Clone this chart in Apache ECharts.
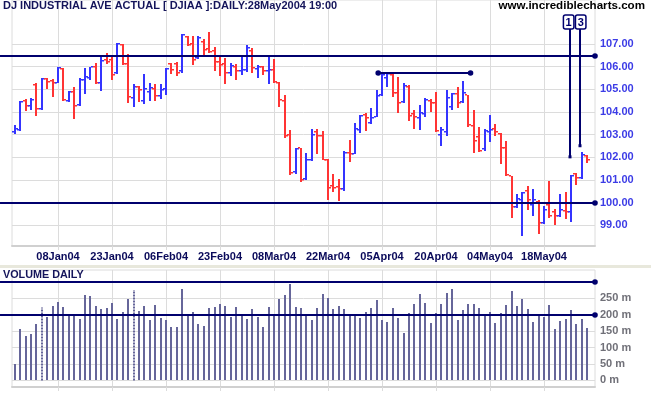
<!DOCTYPE html>
<html><head><meta charset="utf-8">
<script src="https://cdn.jsdelivr.net/npm/echarts@6/dist/echarts.min.js"></script>
<style>html,body{margin:0;padding:0;background:#fff}#c{width:651px;height:395px}</style>
</head><body><div id="c"></div>
<script>
// ---------- data ----------
const dates = ['26Dec03','29Dec03','30Dec03','31Dec03',
 '02Jan04','05Jan04','06Jan04','07Jan04','08Jan04','09Jan04','12Jan04','13Jan04','14Jan04','15Jan04','16Jan04','20Jan04','21Jan04','22Jan04','23Jan04','26Jan04','27Jan04','28Jan04','29Jan04','30Jan04',
 '02Feb04','03Feb04','04Feb04','05Feb04','06Feb04','09Feb04','10Feb04','11Feb04','12Feb04','13Feb04','17Feb04','18Feb04','19Feb04','20Feb04','23Feb04','24Feb04','25Feb04','26Feb04','27Feb04',
 '01Mar04','02Mar04','03Mar04','04Mar04','05Mar04','08Mar04','09Mar04','10Mar04','11Mar04','12Mar04','15Mar04','16Mar04','17Mar04','18Mar04','19Mar04','22Mar04','23Mar04','24Mar04','25Mar04','26Mar04','29Mar04','30Mar04','31Mar04',
 '01Apr04','02Apr04','05Apr04','06Apr04','07Apr04','08Apr04','12Apr04','13Apr04','14Apr04','15Apr04','16Apr04','19Apr04','20Apr04','21Apr04','22Apr04','23Apr04','26Apr04','27Apr04','28Apr04','29Apr04','30Apr04',
 '03May04','04May04','05May04','06May04','07May04','10May04','11May04','12May04','13May04','14May04','17May04','18May04','19May04','20May04','21May04','24May04','25May04','26May04','27May04','28May04'];

const open = [103.10,103.20,104.50,104.25,105.20,104.12,105.45,105.35,105.30,105.90,104.50,104.90,104.30,105.40,105.50,106.00,105.30,106.30,106.30,105.70,
 106.95,106.10,104.60,105.10,104.50,104.90,105.00,104.70,105.00,106.10,106.10,105.80,107.30,107.00,106.40,107.10,106.80,106.70,106.20,106.10,
 105.70,106.00,105.80,105.85,106.70,105.90,106.00,105.80,105.85,105.30,104.50,103.00,101.35,102.40,101.05,101.90,103.10,102.95,101.90,100.75,
 100.70,100.60,102.20,102.15,103.20,103.85,103.50,103.80,104.75,105.50,105.65,104.85,104.45,105.10,103.90,103.75,103.90,104.50,104.40,103.00,
 103.10,104.20,104.80,104.45,104.75,103.40,102.90,102.35,103.10,103.25,103.05,102.40,101.17,99.80,100.10,100.50,99.90,100.05,99.10,99.90,
 99.60,99.40,99.65,99.60,101.25,101.10,102.05];
const high = [103.42,104.49,104.57,104.60,105.29,105.48,105.48,105.45,105.97,105.93,104.92,105.09,105.48,105.95,106.00,106.17,106.44,106.62,106.50,107.03,
 107.00,106.56,105.23,105.14,105.67,105.29,105.23,105.23,105.93,106.17,106.22,107.44,107.35,107.35,107.35,107.21,107.53,106.88,106.44,106.37,
 106.15,106.12,106.51,106.96,106.81,106.07,106.03,106.51,106.32,105.31,104.75,103.20,102.43,102.43,102.17,103.24,103.27,103.17,101.92,101.28,
 101.06,102.27,102.76,103.50,103.86,103.96,104.16,104.97,105.67,105.70,105.70,105.55,105.26,105.19,104.11,104.30,104.60,104.56,104.89,103.35,
 104.97,104.85,105.11,105.36,104.76,104.08,103.35,103.27,103.86,103.46,103.08,102.71,101.18,100.37,100.47,100.72,100.62,100.14,99.84,100.94,
 99.74,100.37,100.47,101.21,101.31,102.24,102.12];
const low = [103.05,103.18,104.04,104.08,103.82,104.08,105.00,104.67,105.26,104.49,104.45,103.69,104.26,104.78,105.41,105.22,104.94,106.10,105.40,105.67,
 106.07,104.41,104.20,104.45,104.35,104.49,104.49,104.56,104.75,105.67,105.59,105.73,106.91,106.07,106.32,106.47,106.62,105.82,105.60,105.23,
 105.60,105.41,105.63,105.78,105.70,105.51,105.63,105.23,105.26,104.23,102.86,101.24,101.28,100.91,101.02,101.83,102.14,101.87,100.10,100.47,
 100.07,100.50,101.80,102.14,103.08,103.17,103.46,103.76,104.70,105.09,104.67,103.96,104.41,103.60,103.24,103.20,103.79,104.01,103.12,102.49,
 102.93,104.08,104.18,104.41,103.35,102.20,102.24,102.28,102.68,102.93,101.69,101.17,99.32,99.78,98.51,99.69,99.40,98.63,99.04,99.34,
 99.00,99.37,99.28,99.15,100.80,101.06,101.75];
const close = [103.25,104.45,104.26,104.52,104.12,105.44,105.33,105.30,105.93,104.55,104.88,104.26,105.41,105.56,105.97,105.26,106.26,106.22,105.65,106.98,
 106.12,104.64,105.11,104.97,105.00,105.04,104.70,104.97,105.88,105.85,105.70,107.40,106.96,106.29,107.25,106.73,106.66,106.20,106.07,105.70,
 106.04,105.82,105.85,106.81,105.93,105.97,105.80,105.85,105.31,104.55,102.93,101.31,102.39,101.02,101.87,102.98,102.93,101.90,100.67,100.67,
 100.62,102.17,102.14,103.27,103.82,103.72,103.72,104.72,105.63,105.67,104.82,104.41,105.14,103.82,103.76,103.96,104.52,104.41,103.17,103.20,
 104.60,104.79,104.41,104.82,103.42,102.73,102.28,103.17,103.20,103.12,102.43,101.20,99.81,100.18,100.43,100.10,100.10,99.10,99.69,99.40,
 99.40,99.69,99.59,101.17,101.11,102.09,101.87];
const volume = [50,156,135,141,172,222,192,227,239,224,202,202,187,260,257,227,217,220,236,187,
 208,248,275,211,227,184,230,190,184,163,163,278,202,208,172,166,220,224,233,227,
 193,224,202,187,217,193,163,224,202,248,260,294,224,220,196,184,220,263,251,217,
 227,217,202,202,190,208,220,245,184,178,220,190,144,205,233,263,236,175,205,233,
 266,278,184,214,233,233,220,202,208,175,205,230,272,227,248,217,178,202,193,230,
 156,181,187,214,172,187,160];
const dottedVolume = [5, 22];

const priceTicks = [99,100,101,102,103,104,105,106,107];
const volumeTicks = [0,50,100,150,200,250];
const dateTicks = [8,18,28,38,48,58,68,78,88,98];

// annotation lines: [fromIndex, toIndex, level, dotsAtBothEnds]
const priceLines = [[-2.74,107.45,106.47,0],[-2.74,107.45,100.0,0],[67.3,84.4,105.73,1]];
const volumeLines = [[-2.74,107.45,300,0],[-2.74,107.45,200,0]];
// vertical markers: [lineIndex, boxIndex, boxTop, boxBottom, endPrice]
const markerLabels = ['1','3'];
const markers = [[102.87,102.57,108.28,107.66,102.0],[104.67,104.8,108.28,107.66,102.49]];

// ---------- style ----------
const BLUE = '#3434ff', RED = '#ff3434', NAVY = '#00006e', VOL = '#66669a';
const GRID = '#dcdcdc', FONT = 'Liberation Sans';

function renderOHLC(params, api) {
  const i = api.value(0), o = api.value(1), h = api.value(2), l = api.value(3), c = api.value(4);
  const pH = api.coord([i, h]), pL = api.coord([i, l]), pO = api.coord([i, o]), pC = api.coord([i, c]);
  const x = Math.round(pH[0]);
  const col = c >= o ? BLUE : RED;
  const yt = Math.round(pH[1]), yb = Math.round(pL[1]);
  return {type:'group', children:[
    {type:'rect', shape:{x:x-1, y:yt, width:2, height:Math.max(1, yb-yt)}, style:{fill:col}},
    {type:'rect', shape:{x:x-3, y:Math.round(pO[1])-1, width:2, height:1.5}, style:{fill:col}},
    {type:'rect', shape:{x:x+1, y:Math.round(pC[1])-1, width:2, height:1.5}, style:{fill:col}}
  ]};
}
function renderVolume(params, api) {
  const i = api.value(0), v = api.value(1);
  const p0 = api.coord([i, 0]), p1 = api.coord([i, v]);
  const x = Math.round(p0[0]);
  if (dottedVolume.indexOf(i) >= 0) {
    return {type:'line', shape:{x1:x, y1:p0[1], x2:x, y2:p1[1]}, style:{stroke:VOL, lineWidth:2, lineDash:[2,1]}};
  }
  return {type:'rect', shape:{x:x-1, y:Math.round(p1[1]), width:2, height:Math.round(p0[1])-Math.round(p1[1])}, style:{fill:VOL}};
}
function renderLevel(params, api) {
  const a = api.coord([api.value(0), api.value(2)]);
  const b = api.coord([api.value(1), api.value(2)]);
  const y = Math.round(a[1]);
  const ch = [
    {type:'line', shape:{x1:a[0], y1:y, x2:b[0], y2:y}, style:{stroke:NAVY, lineWidth:2}},
    {type:'circle', shape:{cx:b[0], cy:y, r:2.8}, style:{fill:NAVY}}
  ];
  if (api.value(3)) ch.push({type:'circle', shape:{cx:a[0], cy:y, r:2.8}, style:{fill:NAVY}});
  return {type:'group', children:ch};
}
function renderMarker(params, api) {
  const lx = api.coord([api.value(0), api.value(4)]);
  const lt = api.coord([api.value(0), api.value(3)]);
  const bt = api.coord([api.value(1), api.value(2)]);
  const bb = api.coord([api.value(1), api.value(3)]);
  const x = Math.round(lx[0]);
  const w = 10.5;
  return {type:'group', children:[
    {type:'line', shape:{x1:x, y1:lt[1], x2:x, y2:lx[1]}, style:{stroke:NAVY, lineWidth:2}},
    {type:'rect', shape:{x:x-1.5, y:lx[1]-2, width:3, height:3}, style:{fill:NAVY}},
    {type:'rect', shape:{x:bt[0]-w/2, y:bt[1], width:w, height:bb[1]-bt[1], r:2}, style:{fill:'#fff', stroke:NAVY, lineWidth:1.5}},
    {type:'text', x:bt[0], y:(bt[1]+bb[1])/2+0.5, style:{text:markerLabels[params.dataIndex], fill:NAVY, font:'bold 11px "Liberation Sans"', align:'center', verticalAlign:'middle'}}
  ]};
}

const chart = echarts.init(document.getElementById('c'), null, {renderer:'canvas'});
const xCommon = {type:'value', min:-0.52, max:107.45,
  splitLine:{show:true, lineStyle:{color:GRID, width:1}}};
chart.setOption({
  animation:false,
  backgroundColor:'#fff',
  title:[
    {text:'DJ INDUSTRIAL AVE ACTUAL [ DJIAA ]:DAILY:28May2004 19:00', left:3, top:0, padding:0,
     textStyle:{fontSize:11, fontWeight:'bold', color:'#14145a', fontFamily:FONT}},
    {text:'www.incrediblecharts.com', right:6, top:0, padding:0,
     textStyle:{fontSize:11.6, fontWeight:'bold', color:'#000', fontFamily:FONT}},
    {text:'VOLUME DAILY', left:3, top:270, padding:0,
     textStyle:{fontSize:10.8, fontWeight:'bold', color:'#14145a', fontFamily:FONT}}
  ],
  graphic:[{type:'rect', left:0, top:265, shape:{width:651, height:3}, style:{fill:'#e8e8dc'}, silent:true}],
  grid:[
    {left:12, right:56, top:0, height:246, show:true, borderColor:GRID, borderWidth:1, backgroundColor:'transparent'},
    {left:12, right:56, top:270, height:117, show:true, borderColor:GRID, borderWidth:1, backgroundColor:'transparent'}
  ],
  xAxis:[
    Object.assign({}, xCommon, {gridIndex:0,
      axisLine:{show:true, onZero:false, lineStyle:{color:'#d0d0d0', width:2}},
      axisTick:{show:true, customValues:dateTicks, length:4, lineStyle:{color:GRID}},
      axisLabel:{show:true, customValues:dateTicks, formatter:(v)=>dates[Math.round(v)], color:'#0a0a5a',
        fontSize:11, fontWeight:'bold', fontFamily:FONT, margin:5}}),
    Object.assign({}, xCommon, {gridIndex:1,
      axisLine:{show:true, onZero:false, lineStyle:{color:'#d0d0d0', width:2}},
      axisTick:{show:true, customValues:dateTicks, length:4, lineStyle:{color:GRID}},
      axisLabel:{show:false, customValues:dateTicks}})
  ],
  yAxis:[
    {type:'value', gridIndex:0, position:'right', min:98.09, max:108.94,
     axisLine:{show:false}, axisTick:{show:false, customValues:priceTicks},
     axisLabel:{customValues:priceTicks, formatter:(v)=>v.toFixed(2), color:'#3c3ce6', fontSize:11,
       fontWeight:'bold', fontFamily:FONT, margin:5},
     splitLine:{show:true, lineStyle:{color:GRID, width:1}}},
    {type:'value', gridIndex:1, position:'right', min:-20, max:336,
     axisLine:{show:false}, axisTick:{show:false, customValues:volumeTicks},
     axisLabel:{customValues:volumeTicks, formatter:(v)=>v+' m', color:'#707078', fontSize:11,
       fontWeight:'bold', fontFamily:FONT, margin:5},
     splitLine:{show:true, lineStyle:{color:GRID, width:1}}}
  ],
  series:[
    {type:'custom', xAxisIndex:0, yAxisIndex:0, renderItem:renderOHLC, silent:true,
     encode:{x:0, y:[1,2,3,4]},
     data:dates.map((d,i)=>[i, open[i], high[i], low[i], close[i]])},
    {type:'custom', xAxisIndex:1, yAxisIndex:1, renderItem:renderVolume, silent:true,
     encode:{x:0, y:1}, data:volume.map((v,i)=>[i, v])},
    {type:'custom', xAxisIndex:0, yAxisIndex:0, renderItem:renderLevel, silent:true, clip:false,
     encode:{x:[0,1], y:2}, data:priceLines},
    {type:'custom', xAxisIndex:1, yAxisIndex:1, renderItem:renderLevel, silent:true, clip:false,
     encode:{x:[0,1], y:2}, data:volumeLines},
    {type:'custom', xAxisIndex:0, yAxisIndex:0, renderItem:renderMarker, silent:true, clip:false,
     encode:{x:[0,1], y:[2,3,4]}, data:markers}
  ]
});
</script></body></html>
